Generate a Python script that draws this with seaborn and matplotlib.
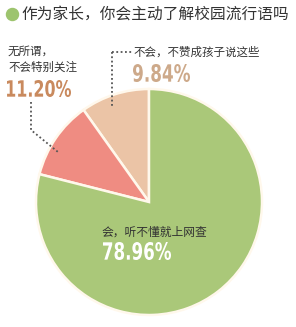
import matplotlib
matplotlib.use('Agg')
import matplotlib.pyplot as plt
import seaborn as sns
from matplotlib.textpath import TextPath
from matplotlib.patches import PathPatch
from matplotlib.font_manager import FontProperties
from matplotlib.transforms import Affine2D, IdentityTransform

# 数据
labels = ['不会，不赞成孩子说这些', '无所谓，\n不会特别关注', '会，听不懂就上网查']
values = [9.84, 11.20, 78.96]
pct_labels = ['9.84%', '11.20%', '78.96%']
colors = ['#EBC4A6', '#EF8C82', '#AAC879']
title = '作为家长，你会主动了解校园流行语吗'

sns.set_theme(style='white')
plt.rcParams['font.family'] = ['Noto Sans CJK SC', 'DejaVu Sans']

W, H = 296, 327
CX, CY, R = 149, 202, 113

fig = plt.figure(figsize=(W / 100, H / 100), dpi=100)
ax = fig.add_axes([0, 0, 1, 1])
ax.pie(values, colors=colors, startangle=90, counterclock=True,
       wedgeprops=dict(edgecolor='#FFF8EC', linewidth=1.8))
ax.set_aspect('auto')
ax.set_xlim(-CX / R, (W - CX) / R)
ax.set_ylim((CY - H) / R, CY / R)
ax.axis('off')


def px(x, y):
    return (x - CX) / R, (CY - y) / R


def narrow_text(s, x0, y0, x1, y1, color):
    # 压扁的粗体数字，放进像素框里 (x0, y0) 左上 -> (x1, y1) 右下
    tp = TextPath((0, 0), s, size=24, prop=FontProperties(family='DejaVu Sans', weight='bold'))
    bb = tp.get_extents()
    sx = (x1 - x0) / bb.width
    sy = (y1 - y0) / bb.height
    tr = Affine2D().translate(-bb.x0, -bb.y0).scale(sx, sy).translate(x0, H - y1)
    fig.patches.append(PathPatch(tp, transform=tr + IdentityTransform(), color=color,
                                 lw=0, figure=fig))


# 标题
ax.scatter(*px(12, 14), s=75, color='#9DC46E', zorder=5)
ax.text(*px(21, 14), title, fontsize=11.3, color='#333333', va='center', ha='left')

dot = dict(color='#555555', linestyle=(0, (1, 1.4)), linewidth=1.3)

# 不会，不赞成
ax.plot(*zip(px(112, 52), px(112, 106)), **dot)
ax.plot(*zip(px(112, 52), px(132, 52)), **dot)
ax.text(*px(133, 52), labels[0], fontsize=8.3, color='#333333', va='center', ha='left')
narrow_text(pct_labels[0], 133, 64, 190, 82, '#CDA98A')

# 无所谓
ax.plot(*zip(px(31, 102), px(31, 130), px(58, 152)), **dot)
ax.text(*px(8, 59), labels[1], fontsize=8.3, color='#333333', va='center', ha='left',
        linespacing=1.3)
narrow_text(pct_labels[1], 7, 80, 71, 97, '#C98A5E')

# 会
ax.text(*px(101, 232), labels[2], fontsize=8.5, color='#333333', va='center', ha='left')
narrow_text(pct_labels[2], 103, 242, 171, 260, 'white')

plt.savefig('out.png', dpi=100)
